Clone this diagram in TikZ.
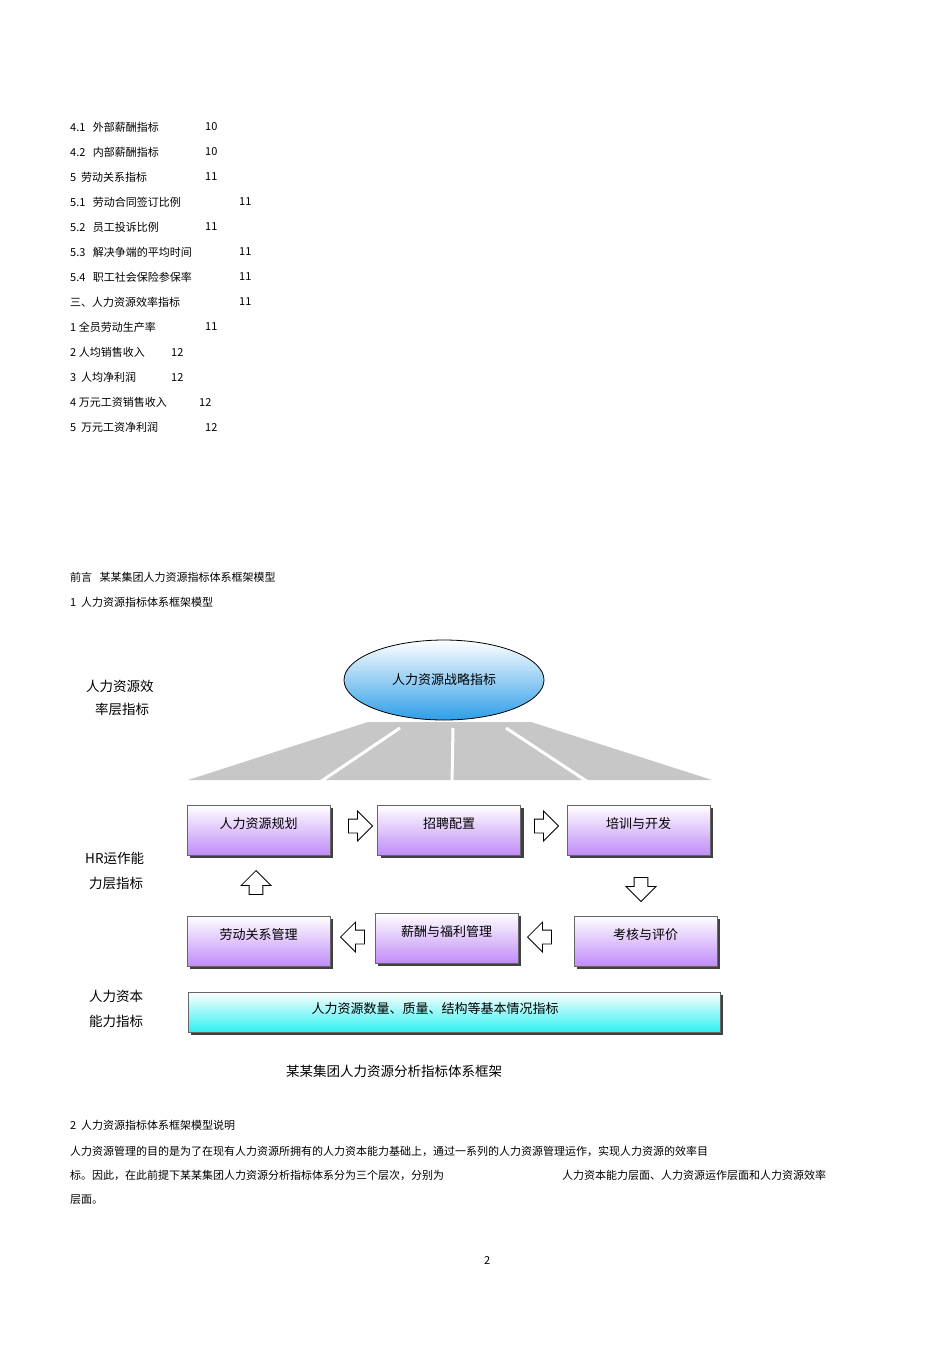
\documentclass[tikz,border=0pt]{standalone}
\usepackage{fontspec}
\setmainfont{Noto Sans CJK SC}
\usetikzlibrary{shapes.geometric,shapes.arrows}
\definecolor{vio}{HTML}{C08CF8}
\definecolor{cya}{HTML}{30F0F0}
\definecolor{sky}{HTML}{2E9EE8}
\begin{document}
\begin{tikzpicture}[x=1pt,y=-1pt,
 toc/.style={anchor=west,inner sep=0pt,font=\fontsize{11}{13}\selectfont},
 side/.style={anchor=west,inner sep=0pt,font=\fontsize{13.5}{16}\selectfont},
 lb/.style={anchor=north,yshift=-9pt,font=\fontsize{13}{15}\selectfont},
 proc/.style={draw=black!60,line width=0.6pt,minimum width=143pt,minimum height=50pt,inner sep=0pt,
   top color=white,bottom color=vio,
   preaction={fill=black!75,transform canvas={shift={(3pt,-3pt)}}}},
 blk/.style={single arrow,draw=black,line width=0.8pt,fill=white,minimum height=24pt,minimum width=30pt,
   single arrow head extend=4pt,single arrow tip angle=90,inner sep=3pt}]
\useasboundingbox (0,0) rectangle (950,1345);
\fill[white] (0,0) rectangle (950,1345);
% TOC
\node[toc] (ta) at (70,127) {4.1\ \ \ 外部薪酬指标};
\node[toc] (tb) at (70,152) {4.2\ \ \ 内部薪酬指标};
\node[toc] (tc) at (70,177) {5\ \ 劳动关系指标};
\node[toc] (td) at (70,202) {5.1\ \ \ 劳动合同签订比例};
\node[toc] (te) at (70,227) {5.2\ \ \ 员工投诉比例};
\node[toc] (tf) at (70,252) {5.3\ \ \ 解决争端的平均时间};
\node[toc] (tg) at (70,277) {5.4\ \ \ 职工社会保险参保率};
\node[toc] (th) at (70,302) {三、人力资源效率指标};
\node[toc] (ti) at (70,327) {1 全员劳动生产率};
\node[toc] (tj) at (70,352) {2 人均销售收入};
\node[toc] (tk) at (70,377) {3\ \ 人均净利润};
\node[toc] (tl) at (70,402) {4 万元工资销售收入};
\node[toc] (tm) at (70,427) {5\ \ 万元工资净利润};
\node[toc] (na) at (205,127) {10};
\node[toc] (nb) at (205,152) {10};
\node[toc] (nc) at (205,177) {11};
\node[toc] (nd) at (239,202) {11};
\node[toc] (ne) at (205,227) {11};
\node[toc] (nf) at (239,252) {11};
\node[toc] (ng) at (239,277) {11};
\node[toc] (nh) at (239,302) {11};
\node[toc] (ni) at (205,327) {11};
\node[toc] (nj) at (171,352) {12};
\node[toc] (nk) at (171,377) {12};
\node[toc] (nl) at (199,402) {12};
\node[toc] (nm) at (205,427) {12};
\node[toc] (h1) at (70,577) {前言\ \ \ 某某集团人力资源指标体系框架模型};
\node[toc] (h2) at (70,602) {1\ \ 人力资源指标体系框架模型};
% fan
\fill[black!22] (368,722) -- (531,722) -- (712,780) -- (188,780) -- cycle;
\foreach \t/\b in {400/320,453/452,506/588}{
  \draw[white,line width=3pt] (\t,728) -- (\b,782);
}
\node[ellipse,draw=black,line width=0.8pt,minimum width=200pt,minimum height=80pt,top color=white,bottom color=sky] (el) at (444,680) {};
\node[font=\fontsize{13}{15}\selectfont] (elt) at (444,680) {人力资源战略指标};
% side labels
\node[side] (s1) at (86,686) {人力资源效};
\node[side] (s2) at (95,709) {率层指标};
\node[side] (s3) at (85,858) {HR运作能};
\node[side] (s4) at (89,883) {力层指标};
\node[side] (s5) at (89,996) {人力资本};
\node[side] (s6) at (89,1021) {能力指标};
% boxes
\node[proc,label={[lb]north:人力资源规划}] (b1) at (258.5,830) {};
\node[proc,label={[lb]north:招聘配置}] (b2) at (449,830) {};
\node[proc,label={[lb]north:培训与开发}] (b3) at (638.5,830) {};
\node[proc,label={[lb]north:劳动关系管理}] (b4) at (258.5,941) {};
\node[proc,label={[lb]north:薪酬与福利管理}] (b5) at (446.5,938) {};
\node[proc,label={[lb]north:考核与评价}] (b6) at (645.5,941) {};
\node[draw=black!60,line width=0.6pt,minimum width=532pt,minimum height=40pt,inner sep=0pt,
  top color=white,bottom color=cya,
  preaction={fill=black!75,transform canvas={shift={(3pt,-3pt)}}}] (bar) at (454,1012) {};
\node[font=\fontsize{13}{15}\selectfont] (bart) at (435,1009) {人力资源数量、质量、结构等基本情况指标};
% block arrows
\node[blk] (a1) at (357,826) {};
\node[blk] (a2) at (543,826) {};
\node[blk,shape border rotate=90] (a3) at (256,886) {};
\node[blk,shape border rotate=270] (a4) at (641,886) {};
\node[blk,shape border rotate=180] (a5) at (356,937) {};
\node[blk,shape border rotate=180] (a6) at (543,937) {};
% caption and text
\node[font=\fontsize{13.5}{16}\selectfont] (cap) at (394,1071) {某某集团人力资源分析指标体系框架};
\node[toc] (h3) at (70,1125) {2\ \ 人力资源指标体系框架模型说明};
\node[toc] (q1) at (70,1151) {人力资源管理的目的是为了在现有人力资源所拥有的人力资本能力基础上，通过一系列的人力资源管理运作，实现人力资源的效率目};
\node[toc] (q2) at (70,1175) {标。因此，在此前提下某某集团人力资源分析指标体系分为三个层次，分别为};
\node[toc] (q3) at (562,1175) {人力资本能力层面、人力资源运作层面和人力资源效率};
\node[toc] (q4) at (70,1200) {层面。};
\node[toc] (pg) at (484,1260) {2};
\end{tikzpicture}
\end{document}
